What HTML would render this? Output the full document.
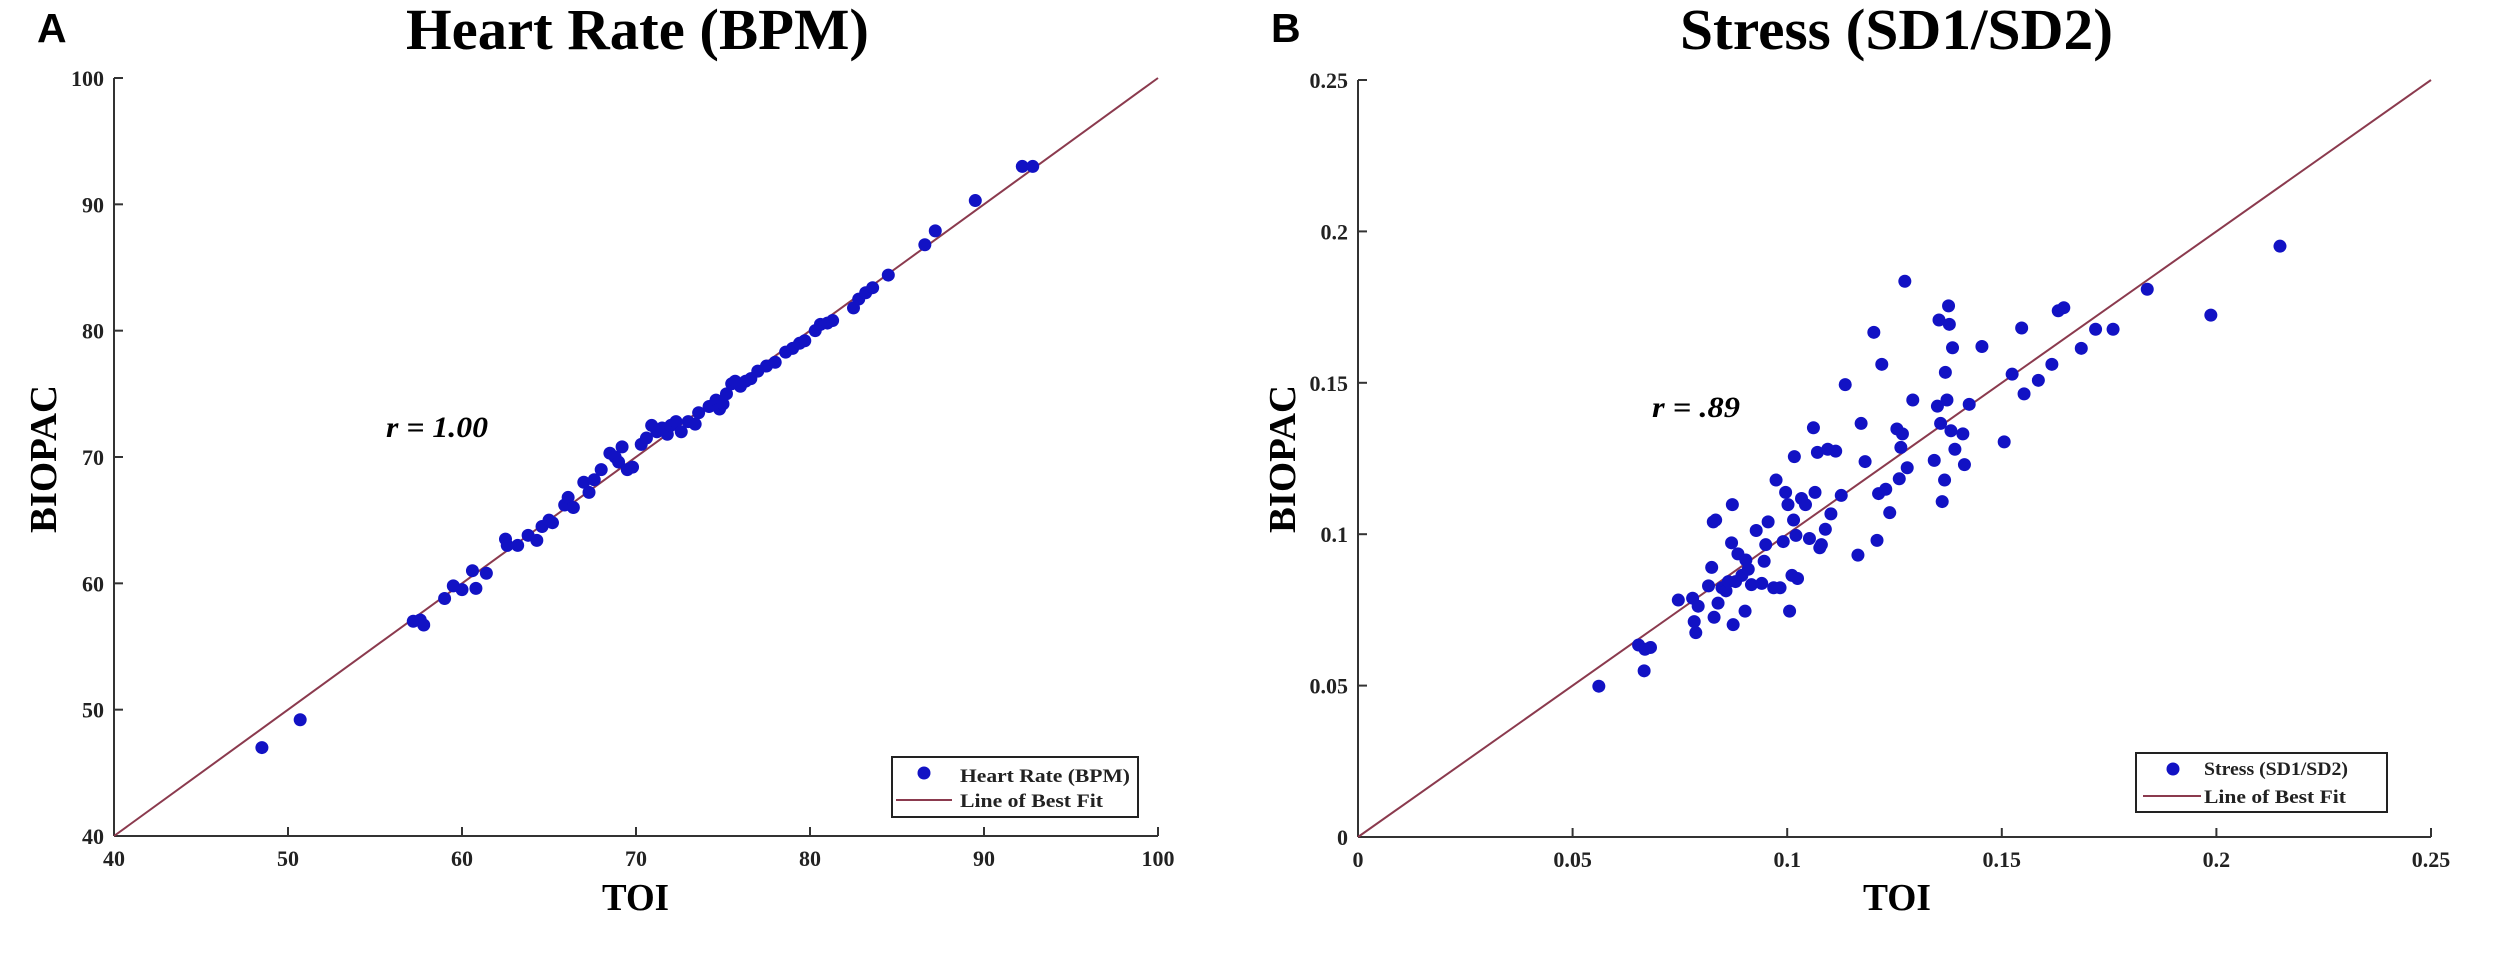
<!DOCTYPE html>
<html><head><meta charset="utf-8"><style>
html,body{margin:0;padding:0;background:#fff;}
svg{display:block;}
.t{font-family:"Liberation Serif",serif;font-weight:bold;}
</style></head><body>
<svg id="s" width="2495" height="966" xmlns="http://www.w3.org/2000/svg">
<text x="37" y="42" font-family="Liberation Sans,sans-serif" font-weight="bold" font-size="41">A</text>
<text x="1271" y="42" font-family="Liberation Sans,sans-serif" font-weight="bold" font-size="41">B</text>
<text class="t" x="406" y="49" font-size="58" textLength="463" lengthAdjust="spacingAndGlyphs">Heart Rate (BPM)</text>
<text class="t" x="1680" y="49" font-size="58" textLength="433" lengthAdjust="spacingAndGlyphs">Stress (SD1/SD2)</text>
<text class="t" x="602" y="910" font-size="38" textLength="67" lengthAdjust="spacingAndGlyphs">TOI</text>
<text class="t" x="1863" y="910" font-size="38" textLength="68" lengthAdjust="spacingAndGlyphs">TOI</text>
<text class="t" transform="translate(56,533) rotate(-90)" font-size="38" textLength="148" lengthAdjust="spacingAndGlyphs">BIOPAC</text>
<text class="t" transform="translate(1295,533) rotate(-90)" font-size="38" textLength="148" lengthAdjust="spacingAndGlyphs">BIOPAC</text>
<text class="t" x="386" y="437" font-size="30" font-style="italic" textLength="102" lengthAdjust="spacingAndGlyphs">r = 1.00</text>
<text class="t" x="1652" y="417" font-size="30" font-style="italic" textLength="88" lengthAdjust="spacingAndGlyphs">r = .89</text>
<g id="g"></g>
</svg>
<script>
var NS="http://www.w3.org/2000/svg",g=document.getElementById('g');
function el(t,a,txt){var e=document.createElementNS(NS,t);for(var k in a)e.setAttribute(k,a[k]);if(txt!=null)e.textContent=txt;g.appendChild(e);return e;}
function plot(P){
 var X=function(v){return P.x0+(v-P.min)/(P.max-P.min)*(P.x1-P.x0)};
 var Y=function(v){return P.y0-(v-P.min)/(P.max-P.min)*(P.y0-P.y1)};
 el('line',{x1:P.x0,y1:P.y0,x2:P.x1,y2:P.y0,stroke:'#333','stroke-width':2});
 el('line',{x1:P.x0,y1:P.y0,x2:P.x0,y2:P.y1,stroke:'#333','stroke-width':2});
 P.ticks.forEach(function(t,i){
  var lab=P.labs[i];
  el('line',{x1:X(t),y1:P.y0,x2:X(t),y2:P.y0-9,stroke:'#333','stroke-width':2});
  el('line',{x1:P.x0,y1:Y(t),x2:P.x0+9,y2:Y(t),stroke:'#333','stroke-width':2});
  el('text',{x:X(t),y:P.y0+30,'font-size':22,'text-anchor':'middle','class':'t',fill:'#222'},lab);
  el('text',{x:P.x0-10,y:Y(t)+8,'font-size':22,'text-anchor':'end','class':'t',fill:'#222'},lab);
 });
 el('line',{x1:X(P.min),y1:Y(P.min),x2:X(P.max),y2:Y(P.max),stroke:'#8b3a4e','stroke-width':2});
 P.pts.forEach(function(p){el('circle',{cx:X(p[0]),cy:Y(p[1]),r:6.5,fill:'#1212c4'});});
 var L=P.leg;
 el('rect',{x:L.x,y:L.y,width:L.w,height:L.h,fill:'#fff',stroke:'#222','stroke-width':2});
 el('circle',{cx:L.mx,cy:L.my,r:6.5,fill:'#1212c4'});
 el('line',{x1:L.lx0,y1:L.ly,x2:L.lx1,y2:L.ly,stroke:'#8b3a4e','stroke-width':2});
 el('text',{x:L.tx,y:L.b1,'font-size':19,'class':'t',fill:'#222',textLength:L.tl1,lengthAdjust:'spacingAndGlyphs'},P.name);
 el('text',{x:L.tx,y:L.b2,'font-size':19,'class':'t',fill:'#222',textLength:L.tl2,lengthAdjust:'spacingAndGlyphs'},'Line of Best Fit');
}
var hr=[[48.5,47],[50.7,49.2],[57.2,57],[57.6,57.1],[57.8,56.7],[59,58.8],[59.5,59.8],[60,59.5],[60.6,61],[60.8,59.6],[61.4,60.8],[62.5,63.5],[62.6,63],[63.2,63],[63.8,63.8],[64.3,63.4],[64.6,64.5],[65,65],[65.2,64.8],[65.9,66.2],[66.1,66.8],[66.4,66],[67,68],[67.3,67.2],[67.6,68.2],[68,69],[68.5,70.3],[68.8,70],[69,69.6],[69.2,70.8],[69.5,69],[69.8,69.2],[70.3,71],[70.6,71.5],[70.9,72.5],[71.2,72],[71.5,72.3],[71.8,71.8],[72,72.5],[72.3,72.8],[72.6,72],[73,72.8],[73.4,72.6],[73.6,73.5],[74.2,74],[74.6,74.5],[74.8,73.8],[75,74.2],[75.2,75],[75.5,75.8],[75.7,76],[76,75.6],[76.3,76],[76.6,76.2],[77,76.8],[77.5,77.2],[78,77.5],[78.6,78.3],[79,78.6],[79.4,79],[79.7,79.2],[80.3,80],[80.6,80.5],[81,80.6],[81.3,80.8],[82.5,81.8],[82.8,82.5],[83.2,83],[83.6,83.4],[84.5,84.4],[86.6,86.8],[87.2,87.9],[89.5,90.3],[92.2,93],[92.8,93]];
var zs=[[440,1115],[490,1048],[498,1055],[505,1052],[497,1090],[540,975],[558,972],[560,1010],[562,1028],[565,985],[578,952],[582,922],[584,848],[587,845],[585,1003],[590,980],[595,955],[600,960],[603,945],[607,882],[608,820],[609,1015],[612,945],[615,900],[620,935],[624,993],[625,910],[628,925],[632,950],[638,862],[645,948],[648,912],[650,885],[653,848],[660,955],[663,780],[668,955],[672,880],[675,800],[678,820],[680,993],[683,935],[685,845],[686,742],[688,870],[690,940],[695,810],[700,820],[705,875],[710,695],[712,800],[715,735],[718,890],[720,885],[725,860],[728,730],[732,835],[738,733],[745,805],[750,625],[766,902],[770,688],[775,750],[786,540],[790,878],[792,802],[796,592],[801,795],[806,833],[815,697],[818,778],[820,727],[822,705],[825,457],[828,760],[835,650],[862,748],[866,660],[868,520],[870,688],[872,815],[875,780],[876,605],[878,650],[880,497],[881,527],[883,700],[885,565],[888,730],[898,705],[900,755],[906,657],[922,563],[950,718],[960,608],[972,533],[975,640],[993,618],[1010,592],[1018,505],[1025,500],[1047,566],[1065,535],[1087,535],[1130,470],[1210,512],[1297,400]];
var st=zs.map(function(p){return [(p[0]-137)/1350*0.25,(1360-p[1])/1230*0.25];});
plot({x0:114,x1:1158,y0:836,y1:78,min:40,max:100,ticks:[40,50,60,70,80,90,100],labs:['40','50','60','70','80','90','100'],pts:hr,name:'Heart Rate (BPM)',
 leg:{x:892,y:757,w:246,h:60,mx:924,my:773,lx0:896,lx1:952,ly:800,tx:960,b1:782,b2:807,tl1:170,tl2:143}});
plot({x0:1358,x1:2431,y0:837,y1:80,min:0,max:0.25,ticks:[0,0.05,0.1,0.15,0.2,0.25],labs:['0','0.05','0.1','0.15','0.2','0.25'],pts:st,name:'Stress (SD1/SD2)',
 leg:{x:2136,y:753,w:251,h:59,mx:2173,my:769,lx0:2143,lx1:2201,ly:796,tx:2204,b1:775,b2:803,tl1:144,tl2:142}});
</script>
</body></html>
